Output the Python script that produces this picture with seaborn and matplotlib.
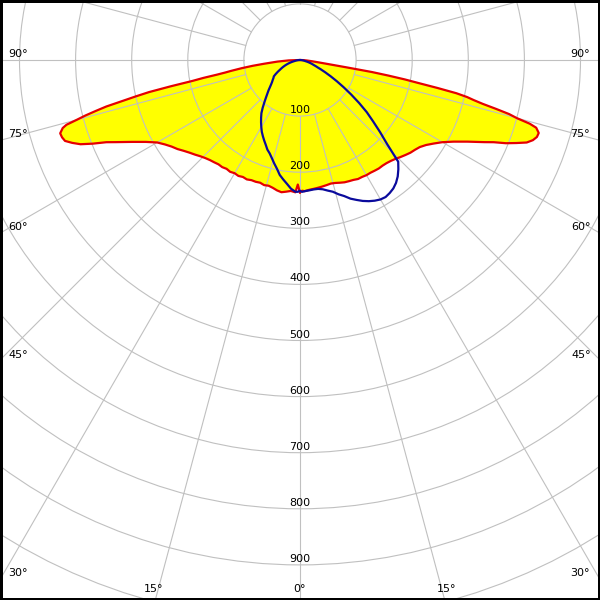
import numpy as np
import pandas as pd
import matplotlib
matplotlib.use("Agg")
import matplotlib.pyplot as plt
from matplotlib.patches import Circle
import seaborn as sns

# gamma angles (deg from nadir) shared by all four half-planes
gamma = [0, 1, 2, 4, 6, 8, 10, 12, 14, 16, 18, 20, 22, 24, 26, 28, 30, 32, 34,
         36, 38, 40, 42, 44, 46, 48, 50, 52, 54, 56, 58, 60, 62, 64, 66,
         67, 68, 69, 70, 71, 72, 73,
         74, 74.5, 75, 75.5, 76, 76.5, 77, 77.5, 78, 78.5, 79, 79.5, 80, 80.5, 81,
         82, 83, 84, 86, 88, 90]

# red curve, right half (C0) and left half (C180), cd/klm
red_c0 = [235, 233, 234, 232, 231, 230, 229, 228, 227, 228, 230, 232, 233, 234, 236, 236, 237, 237, 238,
          239, 239, 240, 242, 245, 249, 253, 257, 260, 264, 271, 281, 293, 310, 332, 360,
          375, 396, 413, 430, 439, 444, 445,
          438, 425, 400, 385, 360, 335, 318, 305, 285, 250, 215, 190, 160, 130, 85,
          45, 30, 22, 12, 6, 0]
red_c180 = [237, 222, 236, 234, 236, 238, 236, 233, 231, 232, 230, 231, 231, 233, 232, 234, 233, 235, 234,
            236, 236, 238, 240, 243, 247, 252, 257, 263, 270, 276, 284, 294, 311, 333, 360,
            375, 398, 419, 432, 443, 446, 447,
            440, 432, 412, 395, 375, 355, 325, 300, 275, 235, 195, 175, 150, 135, 125,
            105, 85, 65, 40, 20, 0]

# blue curve, right half (C90) and left half (C270)
blue_c90 = [234, 235, 234, 233, 232, 232, 234, 238, 242, 249, 255, 263, 269, 275, 280, 284, 287, 288, 286,
            283, 278, 271, 262, 252, 216, 192, 170, 151, 130, 110, 92, 76, 62, 50, 40,
            35, 32, 29, 26, 24, 22, 20,
            18, 17, 16, 15, 14, 13, 12, 11, 10, 9.5, 9, 8.5, 8, 7.5, 7,
            6, 5, 4, 3, 1, 0]
blue_c270 = [233, 235, 235, 230, 222, 215, 208, 198, 190, 182, 175, 170, 163, 157, 151, 145, 138, 131, 124,
             117, 108, 99, 91, 84, 78, 72, 67, 63, 60, 57, 55, 50, 45, 40, 36,
             34, 32, 30, 28, 26, 24, 22,
             20, 19, 18, 17, 16, 15, 14, 13, 12, 11, 10, 9.5, 9, 8.5, 8,
             7, 6, 5, 3, 1, 0]

radial_ticks = [100, 200, 300, 400, 500, 600, 700, 800, 900]
# angle labels and their pixel spots along the frame
angle_labels = ["90°", "75°", "60°", "45°", "30°", "15°", "0°", "15°", "30°", "45°", "60°", "75°", "90°"]
label_px = [(18, 54), (18, 134), (18, 227), (18, 355), (18, 573), (154, 589), (299, 589),
            (447, 589), (580, 573), (581, 355), (581, 227), (580, 134), (580, 54)]

GRID = "#c0c0c0"
UPP = 1 / 0.561  # data units per pixel


def to_xy(g, vals, side):
    g = np.radians(np.asarray(g, float))
    v = np.asarray(vals, float)
    return side * v * np.sin(g), -v * np.cos(g)


def closed_curve(right, left):
    xr, yr = to_xy(gamma, right, 1)
    xl, yl = to_xy(gamma, left, -1)
    x = np.concatenate([xr[::-1], xl])
    y = np.concatenate([yr[::-1], yl])
    return pd.DataFrame({"x": x, "y": y})


sns.set_style("white")
plt.rcParams["font.family"] = ["DejaVu Sans"]
plt.rcParams["text.color"] = "black"

fig = plt.figure(figsize=(6, 6), dpi=100)
ax = fig.add_axes([0, 0, 1, 1])

red = closed_curve(red_c0, red_c180)
blue = closed_curve(blue_c90, blue_c270)

ax.fill(red["x"], red["y"], color="#ffff00", lw=0, zorder=1)

# polar grid: circles and 15 degree spokes starting at the first ring
for r in range(100, 1300, 100):
    ax.add_patch(Circle((0, 0), r, fill=False, ec=GRID, lw=0.8, zorder=2))
for a in range(0, 360, 15):
    t = np.radians(a)
    ax.plot([100 * np.sin(t), 1400 * np.sin(t)], [-100 * np.cos(t), -1400 * np.cos(t)],
            color=GRID, lw=0.8, zorder=2)

sns.lineplot(data=red, x="x", y="y", sort=False, estimator=None, color="#e60000",
             lw=1.6, ax=ax, zorder=3)
sns.lineplot(data=blue, x="x", y="y", sort=False, estimator=None, color="#0a0a9c",
             lw=1.6, ax=ax, zorder=4)

for r in radial_ticks:
    ax.text(0, -r + 6 * UPP, str(r), ha="center", va="center", fontsize=8,
            color="black", zorder=5)

for lab, (px, py) in zip(angle_labels, label_px):
    ax.text(px / 600, 1 - py / 600, lab, ha="center", va="center", fontsize=8,
            color="black", transform=ax.transAxes, zorder=5)

ax.set_xlim(-300 * UPP, 300 * UPP)
ax.set_ylim(-540 * UPP, 60 * UPP)
ax.set_aspect("equal")
ax.set_xticks([])
ax.set_yticks([])
ax.set_xlabel("")
ax.set_ylabel("")
for s in ax.spines.values():
    s.set_color("black")
    s.set_linewidth(3.6)

fig.savefig("out.png", dpi=100)
